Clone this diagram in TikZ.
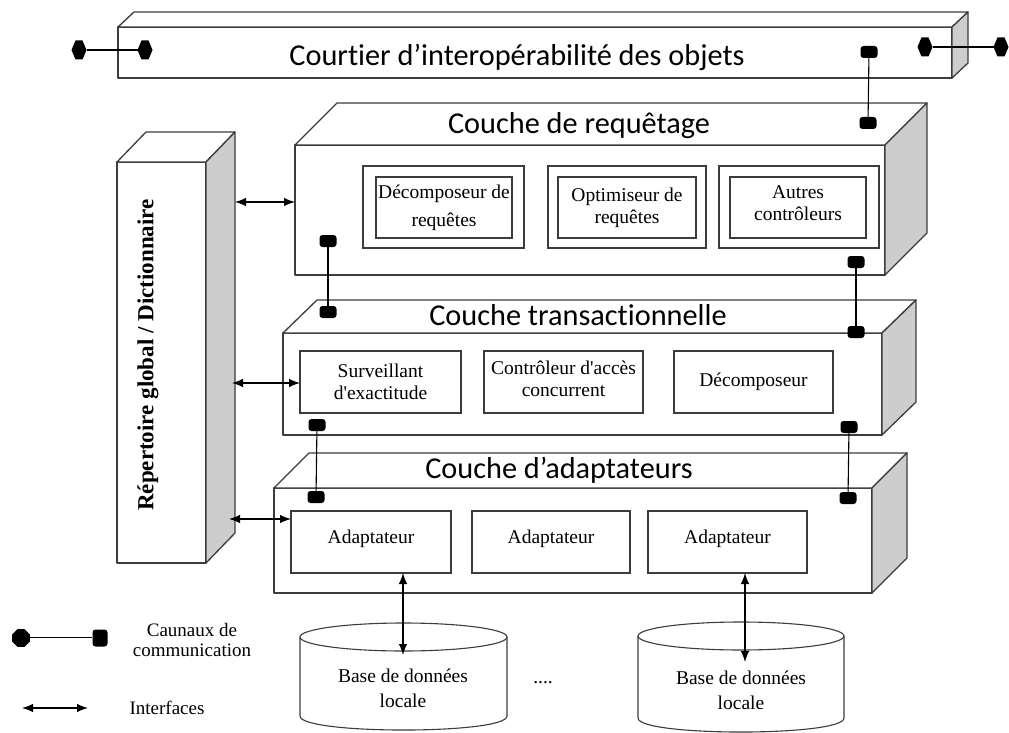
\documentclass[tikz,border=0pt]{standalone}
\usepackage{fontspec}
\setmainfont{Liberation Serif}
\newfontfamily\titlefont[Ligatures=NoCommon]{Carlito}
\usetikzlibrary{arrows.meta,calc,shapes.geometric}

\definecolor{edge}{RGB}{60,60,60}
\definecolor{sidegray}{RGB}{205,205,205}

\tikzset{
  face/.style={draw=edge, line width=1.3pt, line join=round},
  slab/.style={face, fill=white, inner sep=0pt, outer sep=0pt, anchor=north west},
  cell/.style={draw=edge, line width=1.2pt, fill=white, inner sep=0pt, outer sep=0pt,
    anchor=north west, font=\fontsize{19.5}{22}\selectfont, align=center},
  celltext/.style={font=\fontsize{19.5}{22}\selectfont, align=center, inner sep=0pt},
  title/.style={font=\titlefont\fontsize{30.3}{33}\selectfont, inner sep=0pt},
  wire/.style={draw=black, line width=1.1pt},
  blob/.style={fill=black, draw=none, rounded corners=3pt, minimum width=17pt,
    minimum height=12pt, inner sep=0pt},
  termbox/.style={inner sep=0pt, outer sep=0pt, minimum width=15pt, minimum height=19pt},
  octo/.style={fill=black, draw=none, regular polygon, regular polygon sides=8,
    minimum size=19pt, inner sep=0pt},
  iface/.style={line width=1.1pt, {Latex[length=11pt,width=8.5pt]}-{Latex[length=11pt,width=8.5pt]}},
}

% top and right faces of a box whose front face is the node #1
\newcommand\slabfaces[3]{%
  \draw[face, fill=white] (#1.north west) -- ++(#2,-#3) -- ($(#1.north east)+(#2,-#3)$) -- (#1.north east) -- cycle;
  \draw[face, fill=sidegray] (#1.north east) -- ++(#2,-#3) -- ($(#1.south east)+(#2,-#3)$) -- (#1.south east) -- cycle;
}

% hexagonal channel terminal, pointed left and right
\newcommand\hexterm[3]{% name, x, y
  \node[termbox] (#1) at (#2,#3) {};
  \fill (#1.west) -- ($(#1.north west)+(4,0)$) -- ($(#1.north east)+(-4,0)$) -- (#1.east)
    -- ($(#1.south east)+(-4,0)$) -- ($(#1.south west)+(4,0)$) -- cycle;
}

% disk-shaped database symbol
\newcommand\dbdisk[4]{% left x, right x, top y, bottom y
  \draw[face, line width=1.1pt, fill=white] (#1,#3) -- (#1,#4)
    .. controls (#1,#4+18.7) and (#2,#4+18.7) .. (#2,#4) -- (#2,#3);
  \draw[face, line width=1.1pt, fill=white] ({(#1+#2)/2},#3) ellipse [x radius={(#2-#1)/2}, y radius=14];
}

\begin{document}
\begin{tikzpicture}[x=1pt, y=-1pt]
\useasboundingbox (0,0) rectangle (1009,733);

% ---------- object broker bar ----------
\node[slab, minimum width=834pt, minimum height=51pt] (broker) at (118,27) {};
\slabfaces{broker}{16}{15}
\node[title] (brokertitle) at (517,57) {Courtier d’interopérabilité des objets};

% ---------- global directory ----------
\node[slab, minimum width=89pt, minimum height=401pt] (dir) at (117,162) {};
\slabfaces{dir}{29}{30}
\node[rotate=90, font=\bfseries\fontsize{23}{25}\selectfont, inner sep=0pt] (dirtitle) at (148,355)
  {Répertoire global / Dictionnaire};

% ---------- query layer ----------
\node[slab, minimum width=590pt, minimum height=130pt] (query) at (295,145) {};
\slabfaces{query}{42}{42}
\node[title] (querytitle) at (579,126) {Couche de requêtage};

\node[cell, minimum width=161pt, minimum height=82pt] (q1o) at (363,166) {};
\node[cell, minimum width=136pt, minimum height=61pt] (q1) at (376,177) {};
\node[celltext] (q1t) at (q1) {Décomposeur de\\[6pt]requêtes};
\node[cell, minimum width=158pt, minimum height=82pt] (q2o) at (548,166) {};
\node[cell, minimum width=138pt, minimum height=61pt] (q2) at (558,177) {};
\node[celltext] (q2t) at (q2) {Optimiseur de\\requêtes};
\node[cell, minimum width=160pt, minimum height=82pt] (q3o) at (719,166) {};
\node[cell, minimum width=136pt, minimum height=61pt] (q3) at (730,177) {};
\node[celltext] (q3t) at ($(q3)+(0,-4)$) {Autres\\contrôleurs};

% ---------- transaction layer ----------
\node[slab, minimum width=599pt, minimum height=102pt] (trans) at (283,333) {};
\slabfaces{trans}{34}{33}
\node[title] (transtitle) at (578,315) {Couche transactionnelle};

\node[cell, minimum width=161pt, minimum height=62pt] (t1) at (300,351) {};
\node[celltext] (t1t) at (t1) {Surveillant\\d\textquotesingle exactitude};
\node[cell, minimum width=159pt, minimum height=62pt] (t2) at (484,351) {};
\node[celltext] (t2t) at ($(t2)+(0,-3)$) {Contrôleur d\textquotesingle accès\\concurrent};
\node[cell, minimum width=159pt, minimum height=62pt] (t3) at (674,351) {};
\node[celltext] (t3t) at (t3) {Décomposeur};

% ---------- adapter layer ----------
\node[slab, minimum width=598pt, minimum height=105pt] (adapt) at (274,488) {};
\slabfaces{adapt}{35}{35}
\node[title] (adapttitle) at (559,470) {Couche d’adaptateurs};

\node[cell, minimum width=160pt, minimum height=62pt] (a1) at (291,511) {};
\node[celltext] (a1t) at ($(a1)+(0,-3)$) {Adaptateur};
\node[cell, minimum width=158pt, minimum height=62pt] (a2) at (472,511) {};
\node[celltext] (a2t) at ($(a2)+(0,-3)$) {Adaptateur};
\node[cell, minimum width=159pt, minimum height=62pt] (a3) at (648,511) {};
\node[celltext] (a3t) at ($(a3)+(0,-3)$) {Adaptateur};

% ---------- local databases ----------
\dbdisk{300}{507}{637}{716}
\dbdisk{638}{844}{636}{718}
\node[celltext] (db1) at (403,688) {Base de données\\[3pt]locale};
\node[celltext] (db2) at (741,690) {Base de données\\[3pt]locale};
\node[celltext] (dots) at (543,683) {....};
\coordinate (db1in) at (403,655);
\coordinate (db2in) at (745,662);

% ---------- interfaces ----------
\coordinate (dirR1) at (235,202);
\coordinate (dirR2) at (232,383);
\coordinate (dirR3) at (229,519);
\draw[iface] (dirR1) -- (dirR1 -| query.west);
\draw[iface] (dirR2) -- (dirR2 -| t1.west);
\draw[iface] (dirR3) -- (dirR3 -| a1.west);
\draw[iface] (a1.south -| db1in) -- (db1in);
\draw[iface] (a3.south -| db2in) -- (db2in);

% ---------- communication channels ----------
\hexterm{hl1}{79}{50}
\hexterm{hl2}{145}{50}
\hexterm{hr1}{925}{47}
\hexterm{hr2}{1001}{47}
\draw[wire] (hl1) -- (hl2);
\draw[wire] (hr1) -- (hr2);

\node[blob] (cb) at (869,52) {};
\node[blob] (cq) at (868,123) {};
\node[blob] (cqL) at (328,241) {};
\node[blob] (ctL) at (328,312) {};
\node[blob] (cqR) at (856,262) {};
\node[blob] (ctR) at (856,332) {};
\node[blob] (ctL2) at (317,425) {};
\node[blob] (caL) at (316,497) {};
\node[blob] (ctR2) at (849,427) {};
\node[blob] (caR) at (848,498) {};
\draw[wire] (cb) -- (cq);
\draw[wire] (cqL) -- (ctL);
\draw[wire] (cqR) -- (ctR);
\draw[wire] (ctL2) -- (caL);
\draw[wire] (ctR2) -- (caR);

% ---------- legend ----------
\node[octo] (lg1) at (21,638) {};
\node[blob, minimum width=15pt, minimum height=17pt] (lg2) at (100,638) {};
\draw[wire, double, double distance=1pt, line width=0.6pt] (lg1) -- (lg2);
\node[celltext, font=\fontsize{19}{20}\selectfont] (lgchan) at (192,640) {Caunaux de\\communication};
\coordinate (li1) at (22,708);
\coordinate (li2) at (88,708);
\draw[iface] (li1) -- (li2);
\node[celltext, font=\fontsize{19}{20}\selectfont] (lgif) at (167,708) {Interfaces};
\end{tikzpicture}
\end{document}
